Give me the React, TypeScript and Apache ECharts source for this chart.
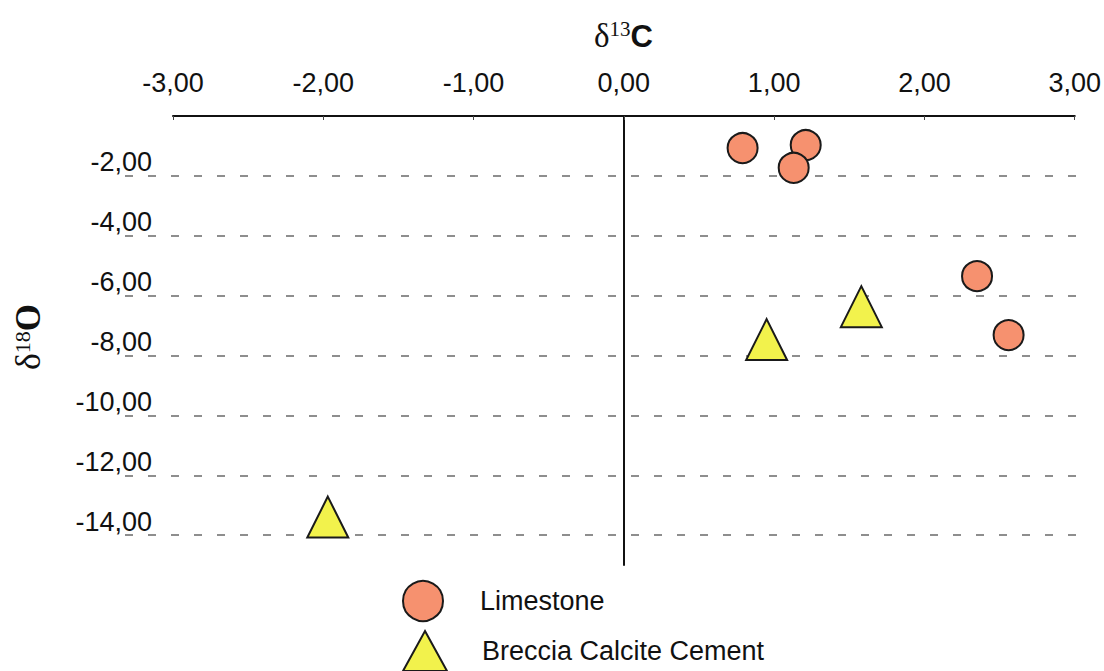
import React, { useEffect, useRef } from "react";
import * as echarts from "echarts";

// Data
const limestoneX = [0.79, 1.21, 1.13, 2.35, 2.56];
const limestoneY = [-1.07, -0.97, -1.73, -5.35, -7.32];
const brecciaX = [1.58, 0.95, -1.97];
const brecciaY = [-6.37, -7.47, -13.4];

const seriesNames = ["Limestone", "Breccia Calcite Cement"];
const xMin = -3;
const xMax = 3;
const xStep = 1;
const yMin = -15;
const yMax = 0;
const gridMin = -16; // grid-line axis counted from a multiple of its step
const gridStep = 2;

const SANS = "'Liberation Sans', Arial, sans-serif";
const SERIF = "'Liberation Serif', 'Times New Roman', serif";

const fmt = (v: number) => v.toFixed(2).replace(".", ",");

export default function App() {
  const ref = useRef<HTMLDivElement>(null);

  useEffect(() => {
    if (!ref.current) return;
    const chart = echarts.init(ref.current, undefined, { renderer: "svg" });

    const limestone = limestoneX.map((x, i) => [x, limestoneY[i]]);
    const breccia = brecciaX.map((x, i) => [x, brecciaY[i]]);

    const legendBase = {
      orient: "vertical",
      left: 402,
      itemWidth: 44,
      itemHeight: 40,
      padding: 0,
      textStyle: {
        fontSize: 27,
        fontFamily: SANS,
        color: "#111",
        padding: [0, 0, 0, 30],
      },
    };

    const option: any = {
      animation: false,
      backgroundColor: "#ffffff",
      grid: [
        { left: 173, right: 25, top: 116, bottom: 106, containLabel: false },
        { left: 125, right: 25, top: 116, bottom: 76, containLabel: false },
      ],
      xAxis: [
        {
          gridIndex: 0,
          type: "value",
          position: "top",
          min: xMin,
          max: xMax,
          interval: xStep,
          axisLine: { onZero: false, lineStyle: { color: "#111", width: 2 } },
          axisTick: { show: true, inside: true, length: 4, lineStyle: { color: "#444", width: 1 } },
          splitLine: { show: false },
          axisLabel: {
            formatter: (v: number) => fmt(v),
            fontSize: 27,
            fontFamily: SANS,
            color: "#111",
            margin: 20,
          },
        },
        {
          gridIndex: 1,
          type: "value",
          min: 0,
          max: 1,
          show: false,
        },
      ],
      yAxis: [
        {
          gridIndex: 0,
          type: "value",
          min: yMin,
          max: yMax,
          axisLine: { show: true, onZero: true, lineStyle: { color: "#111", width: 2 } },
          axisTick: { show: false },
          axisLabel: { show: false },
          splitLine: { show: false },
        },
        {
          gridIndex: 1,
          type: "value",
          min: gridMin,
          max: yMax,
          interval: gridStep,
          axisLine: { show: false },
          axisTick: { show: false },
          splitLine: {
            show: true,
            showMinLine: false,
            showMaxLine: false,
            lineStyle: { color: "#6a6a6a", width: 1.5, type: [8, 15] },
          },
          axisLabel: {
            show: true,
            showMinLabel: false,
            showMaxLabel: false,
            formatter: (v: number) => fmt(v),
            fontSize: 27,
            fontFamily: SANS,
            color: "#111",
            align: "right",
            verticalAlign: "bottom",
            margin: -27,
          },
        },
      ],
      title: {
        text: "{d|δ}{s|13}{c|C}",
        left: 589,
        top: 13,
        textStyle: {
          fontWeight: "normal",
          rich: {
            d: { fontFamily: SERIF, fontSize: 33, fontWeight: "normal", color: "#111", lineHeight: 36 },
            s: { fontFamily: SERIF, fontSize: 21, fontWeight: "normal", color: "#111", verticalAlign: "top", lineHeight: 36, padding: [0, 0, 12, 0] },
            c: { fontFamily: SANS, fontSize: 31, fontWeight: "bold", color: "#111", lineHeight: 36 },
          },
        },
      },
      graphic: [
        {
          type: "text",
          x: 28,
          y: 337,
          rotation: Math.PI / 2,
          style: {
            text: "{d|δ}{s|18}{o|O}",
            align: "center",
            verticalAlign: "middle",
            rich: {
              d: { fontFamily: SERIF, fontSize: 36, fontWeight: "normal", fill: "#111", lineHeight: 38 },
              s: { fontFamily: SERIF, fontSize: 22, fontWeight: "normal", fill: "#111", lineHeight: 38, padding: [0, 0, 12, 0] },
              o: { fontFamily: SERIF, fontSize: 35, fontWeight: "bold", fill: "#111", lineHeight: 38 },
            },
          },
        },
      ],
      legend: [
        { ...legendBase, top: 580, data: [seriesNames[0]] },
        { ...legendBase, top: 630, data: [seriesNames[1]] },
      ],
      series: [
        {
          name: seriesNames[0],
          type: "scatter",
          xAxisIndex: 0,
          yAxisIndex: 0,
          symbol: "circle",
          symbolSize: 30,
          data: limestone,
          itemStyle: { color: "#F6916F", borderColor: "#1a1a1a", borderWidth: 2, opacity: 1 },
          z: 5,
        },
        {
          name: seriesNames[1],
          type: "scatter",
          xAxisIndex: 0,
          yAxisIndex: 0,
          symbol: "triangle",
          symbolSize: 41,
          data: breccia,
          itemStyle: { color: "#F2F24C", borderColor: "#1a1a1a", borderWidth: 2, opacity: 1 },
          z: 5,
        },
      ],
    };

    chart.setOption(option);
    return () => chart.dispose();
  }, []);

  return (
    <div
      ref={ref}
      style={{ position: "fixed", left: 0, top: 0, width: 1104, height: 671, background: "#fff" }}
    />
  );
}
